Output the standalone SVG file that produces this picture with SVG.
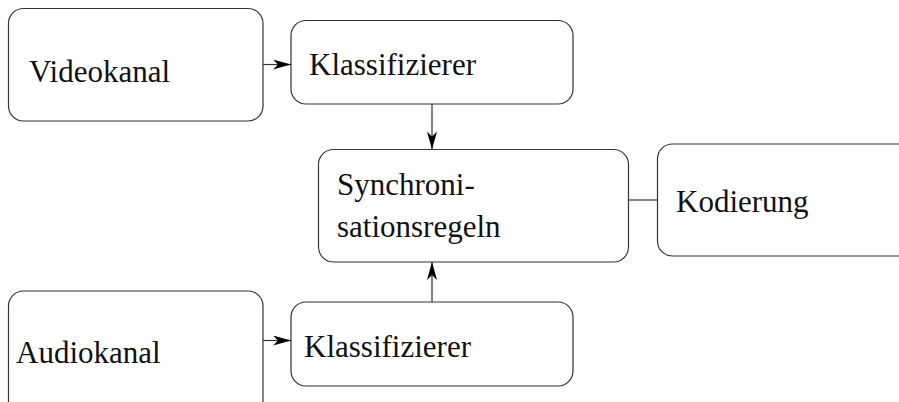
<svg xmlns="http://www.w3.org/2000/svg" width="899" height="402" viewBox="0 0 899 402">
  <style>
    .box { fill: #ffffff; stroke: #333333; stroke-width: 1.2; }
    .lbl { font-size: 31px; fill: #111111; }
    .edge { fill: none; stroke: #333333; stroke-width: 1.2; }
  </style>
  <defs>
    <marker id="arrow" markerUnits="userSpaceOnUse" markerWidth="20" markerHeight="12" refX="18" refY="5" orient="auto">
      <path d="M0,0 L18,5 L0,10 L5,5 Z" fill="#000000"/>
    </marker>
  </defs>
  <rect width="899" height="402" fill="#ffffff"/>

  <g font-family="'Liberation Serif', 'Times New Roman', Times, serif">
    <g id="videokanal">
      <rect class="box" x="8.5" y="8.5" width="254.5" height="112.5" rx="15"/>
      <text class="lbl" x="29" y="82">Videokanal</text>
    </g>
    <g id="klassifizierer-video">
      <rect class="box" x="291" y="20.5" width="282" height="83.5" rx="15"/>
      <text class="lbl" x="309" y="75">Klassifizierer</text>
    </g>
    <g id="synchronisationsregeln">
      <rect class="box" x="318.5" y="149.5" width="310" height="112.5" rx="15"/>
      <text class="lbl" x="337" y="195">Synchroni-</text>
      <text class="lbl" x="337" y="237">sationsregeln</text>
    </g>
    <g id="kodierung">
      <rect class="box" x="657.5" y="144" width="270" height="112" rx="15"/>
      <text class="lbl" x="676" y="212">Kodierung</text>
    </g>
    <g id="audiokanal">
      <rect class="box" x="8.5" y="291" width="254.5" height="140" rx="15"/>
      <text class="lbl" x="16" y="363">Audiokanal</text>
    </g>
    <g id="klassifizierer-audio">
      <rect class="box" x="291" y="302" width="282" height="84" rx="15"/>
      <text class="lbl" x="304" y="357">Klassifizierer</text>
    </g>
  </g>

  <g id="connectors">
    <line class="edge" x1="263" y1="64.5" x2="291" y2="64.5" marker-end="url(#arrow)"/>
    <line class="edge" x1="432" y1="104" x2="432" y2="149.5" marker-end="url(#arrow)"/>
    <line class="edge" x1="432" y1="302" x2="432" y2="262" marker-end="url(#arrow)"/>
    <line class="edge" x1="628.5" y1="200" x2="657.5" y2="200"/>
    <line class="edge" x1="263" y1="340.5" x2="291" y2="340.5" marker-end="url(#arrow)"/>
  </g>
</svg>
